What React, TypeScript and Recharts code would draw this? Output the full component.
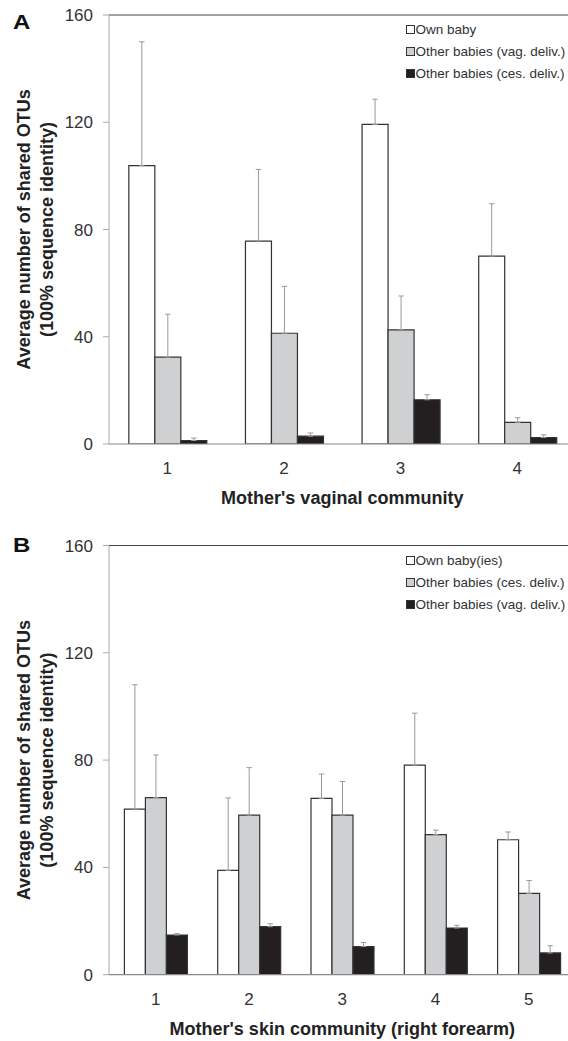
import { BarChart, Bar, XAxis, YAxis, ErrorBar, ReferenceLine, Legend } from 'recharts'

const FONT = '"Liberation Sans", Arial, Helvetica, sans-serif'

// Panel A: mother's vaginal community
const vaginalCommunities = ['1', '2', '3', '4']
const vagOwnBaby = [103.8, 75.7, 119.2, 70.1]
const vagOwnBabyErr = [46.2, 26.7, 9.4, 19.5]
const vagOtherVag = [32.4, 41.3, 42.6, 8.1]
const vagOtherVagErr = [16.0, 17.5, 12.6, 1.7]
const vagOtherCes = [1.3, 2.9, 16.5, 2.4]
const vagOtherCesErr = [0.9, 1.2, 1.9, 1.0]

// Panel B: mother's skin community (right forearm)
const skinCommunities = ['1', '2', '3', '4', '5']
const skinOwnBaby = [61.7, 38.9, 65.7, 78.1, 50.3]
const skinOwnBabyErr = [46.4, 27.0, 9.1, 19.4, 2.9]
const skinOtherCes = [66.0, 59.5, 59.5, 52.2, 30.3]
const skinOtherCesErr = [15.9, 17.7, 12.5, 1.7, 4.8]
const skinOtherVag = [14.8, 17.9, 10.5, 17.4, 8.1]
const skinOtherVagErr = [0.5, 1.1, 1.5, 1.0, 2.7]

const yTicks = [0, 40, 80, 120, 160]
const yTitle = ['Average number of shared OTUs', '(100% sequence identity)']

const WHITE = '#ffffff'
const GREY = '#cfd0d2'
const BLACK = '#231f20'

interface Series {
  name: string
  fill: string
  values: number[]
  errors: number[]
}

const seriesA: Series[] = [
  { name: 'Own baby', fill: WHITE, values: vagOwnBaby, errors: vagOwnBabyErr },
  { name: 'Other babies (vag. deliv.)', fill: GREY, values: vagOtherVag, errors: vagOtherVagErr },
  { name: 'Other babies (ces. deliv.)', fill: BLACK, values: vagOtherCes, errors: vagOtherCesErr },
]

const seriesB: Series[] = [
  { name: 'Own baby(ies)', fill: WHITE, values: skinOwnBaby, errors: skinOwnBabyErr },
  { name: 'Other babies (ces. deliv.)', fill: GREY, values: skinOtherCes, errors: skinOtherCesErr },
  { name: 'Other babies (vag. deliv.)', fill: BLACK, values: skinOtherVag, errors: skinOtherVagErr },
]

interface PanelProps {
  letter: string
  letterTop: number
  categories: string[]
  series: Series[]
  xTitle: string
  height: number
  marginTop: number
  marginBottom: number
  gap: string
  legendTop: number
}

function Panel({ letter, letterTop, categories, series, xTitle, height, marginTop, marginBottom, gap, legendTop }: PanelProps) {
  const data = categories.map((c, i) => {
    const row: Record<string, unknown> = { community: c }
    series.forEach((s, k) => {
      row['v' + k] = s.values[i]
      row['e' + k] = [0, s.errors[i]]
    })
    return row
  })
  const edges = categories.map((_, i) => i).concat(categories.length)

  // keep the legend in series order (recharts sorts its payload)
  const renderLegend = () => (
    <div style={{ fontFamily: FONT, fontSize: 13.5, color: '#333' }}>
      {series.map((s) => (
        <div key={s.name} style={{ height: 22, display: 'flex', alignItems: 'center', whiteSpace: 'nowrap' }}>
          <span
            style={{
              display: 'inline-block',
              boxSizing: 'border-box',
              width: 9,
              height: 9,
              border: '1px solid #333',
              background: s.fill,
              marginRight: 1,
            }}
          />
          <span>{s.name}</span>
        </div>
      ))}
    </div>
  )

  const renderYTitle = (props: any) => {
    const vb = props.viewBox || {}
    const cy = vb.y + vb.height / 2
    return (
      <g>
        {yTitle.map((t, i) => {
          const x = i === 0 ? 24 : 47
          return (
            <text
              key={t}
              x={x}
              y={cy}
              transform={`rotate(-90, ${x}, ${cy})`}
              textAnchor="middle"
              dominantBaseline="central"
              fontFamily={FONT}
              fontWeight="bold"
              fontSize={18}
              fill="#222"
            >
              {t}
            </text>
          )
        })}
      </g>
    )
  }

  const renderXTitle = (props: any) => {
    const vb = props.viewBox || {}
    return (
      <text
        x={vb.x + vb.width / 2}
        y={vb.y + 54}
        textAnchor="middle"
        dominantBaseline="central"
        fontFamily={FONT}
        fontWeight="bold"
        fontSize={18}
        fill="#222"
      >
        {xTitle}
      </text>
    )
  }

  return (
    <div style={{ position: 'relative', width: 580, height }}>
      <div
        style={{
          position: 'absolute',
          left: 13,
          top: letterTop,
          fontFamily: FONT,
          fontWeight: 'bold',
          fontSize: 24,
          lineHeight: '24px',
          color: '#111',
          transform: 'scaleY(0.85)',
          transformOrigin: 'top left',
        }}
      >
        {letter}
      </div>
      <BarChart
        width={580}
        height={height}
        data={data}
        margin={{ top: marginTop, right: 4.5, left: 49, bottom: marginBottom }}
        barCategoryGap={gap}
        barGap={0}
      >
        <XAxis
          dataKey="community"
          height={60}
          axisLine={{ stroke: '#888', strokeWidth: 1.2 }}
          tickLine={false}
          tickSize={0}
          tickMargin={18}
          tick={{ fontSize: 17, fill: '#333', fontFamily: FONT }}
          interval={0}
          label={{ content: renderXTitle }}
        />
        <XAxis
          xAxisId="edge"
          type="number"
          domain={[0, categories.length]}
          ticks={edges}
          allowDataOverflow
          height={0}
          axisLine={false}
          tick={false}
          tickLine={{ stroke: '#888' }}
          tickSize={5}
        />
        <YAxis
          width={60}
          domain={[0, 160]}
          ticks={yTicks}
          allowDataOverflow
          axisLine={{ stroke: '#aaa' }}
          tickLine={{ stroke: '#aaa' }}
          tickSize={6}
          tickMargin={10}
          tick={{ fontSize: 17, fill: '#333', fontFamily: FONT }}
          label={{ content: renderYTitle }}
        />
        <ReferenceLine y={160} stroke="#444" strokeWidth={1.2} />
        <Legend
          layout="horizontal"
          verticalAlign="middle"
          align="center"
          wrapperStyle={{ left: 405.5, top: legendTop, width: 175 }}
          content={renderLegend}
        />
        {series.map((s, k) => (
          <Bar
            key={s.name}
            dataKey={'v' + k}
            name={s.name}
            fill={s.fill}
            stroke="#333"
            strokeWidth={1.2}
            legendType="square"
            isAnimationActive={false}
          >
            <ErrorBar dataKey={'e' + k} width={2.7} stroke="#999" strokeWidth={1} direction="y" />
          </Bar>
        ))}
      </BarChart>
    </div>
  )
}

export default function App() {
  return (
    <div
      style={{
        position: 'absolute',
        left: 0,
        top: 0,
        width: 568,
        height: 1041,
        overflow: 'hidden',
        background: '#fff',
      }}
    >
      <div style={{ position: 'absolute', left: 0, top: 0 }}>
        <Panel
          letter="A"
          letterTop={12}
          categories={vaginalCommunities}
          series={seriesA}
          xTitle="Mother's vaginal community"
          height={520}
          marginTop={15}
          marginBottom={16}
          gap="17%"
          legendTop={18.3}
        />
      </div>
      <div style={{ position: 'absolute', left: 0, top: 520 }}>
        <Panel
          letter="B"
          letterTop={15}
          categories={skinCommunities}
          series={seriesB}
          xTitle="Mother's skin community (right forearm)"
          height={521}
          marginTop={25.5}
          marginBottom={6.3}
          gap="16.5%"
          legendTop={29.8}
        />
      </div>
    </div>
  )
}
